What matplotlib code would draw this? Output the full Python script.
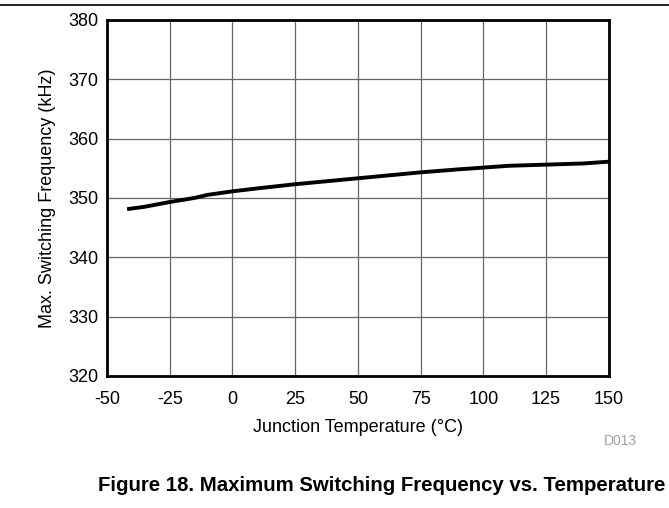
import matplotlib
matplotlib.use("Agg")
import matplotlib.pyplot as plt
from matplotlib.lines import Line2D

# Data
temperature = [-42, -35, -25, -15, -10, -5, 0, 10, 25, 40, 50, 60, 75, 90, 100, 110, 125, 140, 150]
frequency = [348.1, 348.5, 349.3, 350.0, 350.5, 350.8, 351.1, 351.6, 352.3, 352.9,
             353.3, 353.7, 354.3, 354.8, 355.1, 355.4, 355.6, 355.8, 356.1]

x_ticks = [-50, -25, 0, 25, 50, 75, 100, 125, 150]
y_ticks = [320, 330, 340, 350, 360, 370, 380]

plt.rcParams.update({
    "font.family": ["Liberation Sans", "DejaVu Sans"],
    "font.size": 13,
    "axes.unicode_minus": False,
})

fig = plt.figure(figsize=(6.69, 5.08), dpi=100)
ax = fig.add_axes([0.160, 0.260, 0.750, 0.701])

ax.plot(temperature, frequency, color="black", linewidth=2.8, solid_capstyle="butt")

ax.set_xlim(-50, 150)
ax.set_ylim(320, 380)
ax.set_xticks(x_ticks)
ax.set_yticks(y_ticks)
ax.tick_params(length=0, labelsize=13)
ax.tick_params(axis="x", pad=11)
ax.tick_params(axis="y", pad=6)

ax.grid(True, color="#666666", linewidth=0.9)
ax.set_axisbelow(True)

for side in ax.spines.values():
    side.set_linewidth(2.0)
    side.set_color("black")

ax.set_xlabel("Junction Temperature (\u00b0C)", fontsize=13, labelpad=8)
ax.set_ylabel("Max. Switching Frequency (kHz)", fontsize=13, labelpad=9)

fig.text(0.927, 0.131, "D013", fontsize=10, color="#a0a0a0", ha="center", va="center")

fig.text(0.994, 0.045, "Figure 18. Maximum Switching Frequency vs. Temperature",
         fontsize=14.7, fontweight="bold", ha="right", va="center")

# rule across the top of the page
fig.add_artist(Line2D([0, 1], [0.990, 0.990], color="black", linewidth=1.2,
                      transform=fig.transFigure))

fig.savefig("out.png", dpi=100)
plt.close(fig)
